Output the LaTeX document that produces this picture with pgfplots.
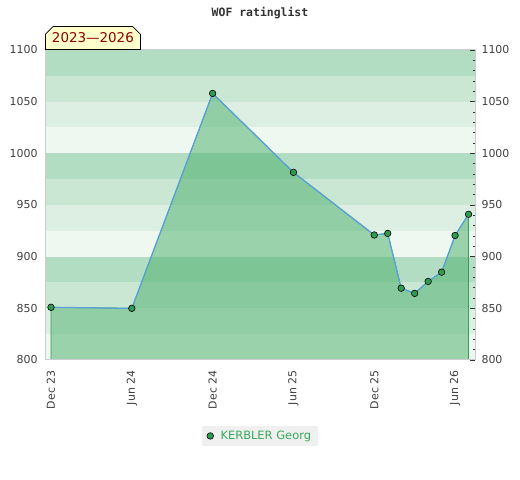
\documentclass[border=0pt]{standalone}
\usepackage{pgfplots}
\pgfplotsset{compat=1.18}
\usepackage{fontspec}
\setmainfont{DejaVu Sans}
\newfontfamily\monofont{DejaVu Sans Mono}
\usetikzlibrary{shapes.misc}
\definecolor{bandA}{HTML}{B3DDC2}
\definecolor{bandB}{HTML}{C9E7D3}
\definecolor{bandC}{HTML}{DCEFE2}
\definecolor{bandD}{HTML}{EEF8F1}
\definecolor{fillc}{RGB}{72,174,105}
\definecolor{edgec}{RGB}{50,160,80}
\definecolor{linec}{RGB}{90,160,220}
\definecolor{markc}{RGB}{46,155,80}
\definecolor{legtext}{RGB}{55,170,90}
\definecolor{boxfill}{HTML}{FFFFCC}
\definecolor{boxtext}{RGB}{140,0,0}
\definecolor{bordc}{HTML}{CCCCCC}
\pgfplotstableread{
x y
0 851
6 850
12 1058
18 981.6
24 921
25 922.5
26 869.5
27 864.5
28 876
29 885
30 920.5
31 941
}\ratings
\begin{document}
\begin{tikzpicture}[x=1bp,y=1bp]
\path[use as bounding box] (0,0) rectangle (520,480);
\begin{axis}[
  at={(45bp,120bp)}, anchor=south west,
  scale only axis, width=430bp, height=310bp,
  xmin=-0.446, xmax=31.48, ymin=800, ymax=1100,
  axis on top,
  axis line style={draw=bordc, line width=1pt},
  ytick={800,850,...,1100},
  xtick={0,6,12,18,24,30},
  xticklabels={Dec 23, Jun 24, Dec 24, Jun 25, Dec 25, Jun 26},
  xticklabel style={rotate=90, anchor=east},
  xticklabel shift=7bp,
  yticklabel shift=4bp,
  major tick length=0pt,
  tick label style={font=\fontsize{11}{13}\selectfont, text=black!75},
  /pgf/number format/assume math mode=true,
  /pgf/number format/1000 sep={},
  legend style={at={(0.5,-0.245)}, anchor=center, fill=black!6, draw=none,
    font=\fontsize{11.5}{13}\selectfont, text=legtext, inner xsep=5bp, inner ysep=3bp},
  legend cell align=left,
]
\fill[bandA] (axis cs:-1,1075) rectangle (axis cs:32,1100);
\fill[bandB] (axis cs:-1,1050) rectangle (axis cs:32,1075);
\fill[bandC] (axis cs:-1,1025) rectangle (axis cs:32,1050);
\fill[bandD] (axis cs:-1,1000) rectangle (axis cs:32,1025);
\fill[bandA] (axis cs:-1,975) rectangle (axis cs:32,1000);
\fill[bandB] (axis cs:-1,950) rectangle (axis cs:32,975);
\fill[bandC] (axis cs:-1,925) rectangle (axis cs:32,950);
\fill[bandD] (axis cs:-1,900) rectangle (axis cs:32,925);
\fill[bandA] (axis cs:-1,875) rectangle (axis cs:32,900);
\fill[bandB] (axis cs:-1,850) rectangle (axis cs:32,875);
\fill[bandC] (axis cs:-1,825) rectangle (axis cs:32,850);
\fill[bandD] (axis cs:-1,800) rectangle (axis cs:32,825);
\addplot[draw=edgec, line width=0.8pt, fill=fillc, fill opacity=0.5, forget plot] table[x=x,y=y] {\ratings} \closedcycle;
\addplot[color=linec, line width=1.2pt, mark=*, mark size=3.3pt,
  mark options={fill=markc, draw=black, line width=0.6pt}, forget plot] table[x=x,y=y] {\ratings};
\addlegendimage{only marks, mark=*, mark size=3.3pt, mark options={fill=markc, draw=black, line width=0.6pt}}
\addlegendentry{\hspace{5bp}KERBLER Georg}
\end{axis}
\begin{axis}[
  at={(45bp,120bp)}, anchor=south west,
  scale only axis, width=430bp, height=310bp,
  xmin=-0.446, xmax=31.48, ymin=800, ymax=1100,
  hide x axis,
  axis y line*=right,
  y axis line style={draw=bordc, line width=1pt},
  ytick={800,850,...,1100},
  minor y tick num=4,
  tick align=inside,
  major tick length=5bp, minor tick length=2.5bp,
  every tick/.style={black!80, line width=0.6pt},
  yticklabel shift=3bp,
  tick label style={font=\fontsize{11}{13}\selectfont, text=black!75},
  /pgf/number format/assume math mode=true,
  /pgf/number format/1000 sep={},
]
\addplot[draw=none, forget plot] coordinates {(0,800)};
\end{axis}
\node[font=\monofont\bfseries\fontsize{11.5}{13}\selectfont, text=black!80] at (260,467) {WOF ratinglist};
\node[chamfered rectangle, chamfered rectangle corners={north west,north east},
  chamfered rectangle xsep=4bp, draw=black, line width=0.8pt, fill=boxfill,
  minimum width=95bp, minimum height=23bp, inner sep=0pt, anchor=south west,
  font=\fontsize{13.5}{15}\selectfont, text=boxtext] at (45,430) {2023—2026};
\end{tikzpicture}
\end{document}
